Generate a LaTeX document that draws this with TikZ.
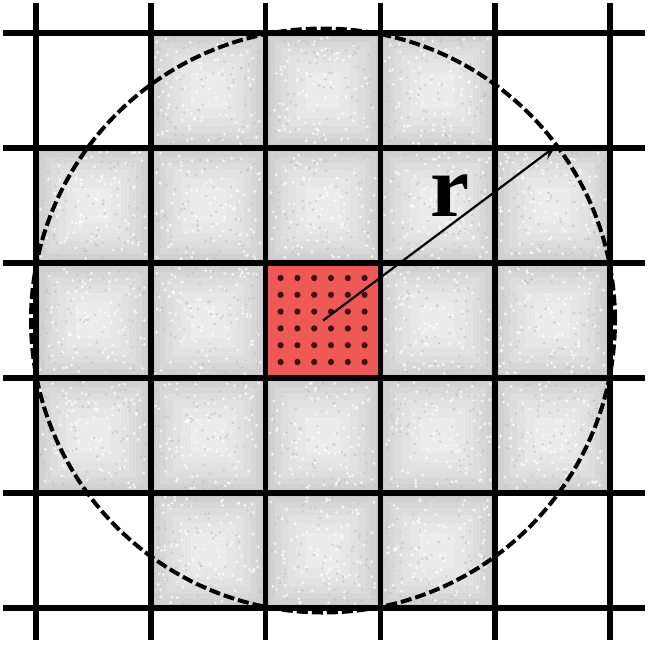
\documentclass[tikz,border=0pt]{standalone}
\usepackage{fontspec}
\setmainfont{Liberation Serif}
\usetikzlibrary{arrows.meta}
\definecolor{cellred}{RGB}{238,88,86}
\definecolor{dotcol}{RGB}{60,15,15}
\newcommand\graycell[2]{%
  \begin{scope}[shift={({36+114.8*#1},{33+115*#2})}]
    \fill[gray!42] (0,0) rectangle (114.8,115);
    \fill[gray!36] (4,4) rectangle (110.8,111);
    \fill[gray!31] (9,9) rectangle (105.8,106);
    \fill[gray!27] (15,15) rectangle (99.8,100);
    \fill[gray!23] (22,22) rectangle (92.8,93);
    \fill[gray!19] (30,30) rectangle (84.8,85);
    \fill[gray!15] (40,40) rectangle (74.8,75);
    \foreach \n in {1,...,90} {
      \pgfmathsetmacro\px{4+106*rnd}
      \pgfmathsetmacro\py{4+107*rnd}
      \fill[white,opacity=0.7] (\px,\py) circle (1.6pt);
    }
    \foreach \n in {1,...,60} {
      \pgfmathsetmacro\px{4+106*rnd}
      \pgfmathsetmacro\py{4+107*rnd}
      \fill[gray!50,opacity=0.6] (\px,\py) circle (1.4pt);
    }
  \end{scope}}
\begin{document}
\begin{tikzpicture}[x=1pt,y=-1pt,
  gridline/.style={line width=5.5pt,black},
  circline/.style={line width=4pt,black,dash pattern=on 11pt off 4pt},
  radius arrow/.style={line width=2.2pt,black,-{Stealth[length=15pt,width=11pt,inset=6pt]}},
  rlabel/.style={font=\bfseries\fontsize{88}{88}\selectfont,inner sep=0pt}]
\pgfmathsetseed{7}
\useasboundingbox (0,0) rectangle (650,646);
\fill[white] (0,0) rectangle (650,646);
% gray cells inside the circle
\foreach \c/\r in {1/0,2/0,3/0,0/1,1/1,2/1,3/1,4/1,0/2,1/2,3/2,4/2,0/3,1/3,2/3,3/3,4/3,1/4,2/4,3/4}
  {\graycell{\c}{\r}}
% red centre cell with dots
\fill[cellred] (265.6,263) rectangle (380.4,378);
\foreach \i in {0,...,5}
  \foreach \j in {0,...,5}
    \fill[dotcol] ({265.6+15+16.8*\i},{263+15+16.8*\j}) circle (3.1pt);
% grid
\foreach \k in {0,...,5} {
  \draw[gridline] ({36+114.8*\k},3) -- ({36+114.8*\k},640);
  \draw[gridline] (3,{33+115*\k}) -- (645,{33+115*\k});
}
% circle
\coordinate (c) at (323,320.5);
\draw[circline] (c) circle (292pt);
% radius
\coordinate (t) at (556,146);
\draw[radius arrow] (c) -- (t);
\node[rlabel] (rlab) at (450,196) {r};
\end{tikzpicture}
\end{document}
